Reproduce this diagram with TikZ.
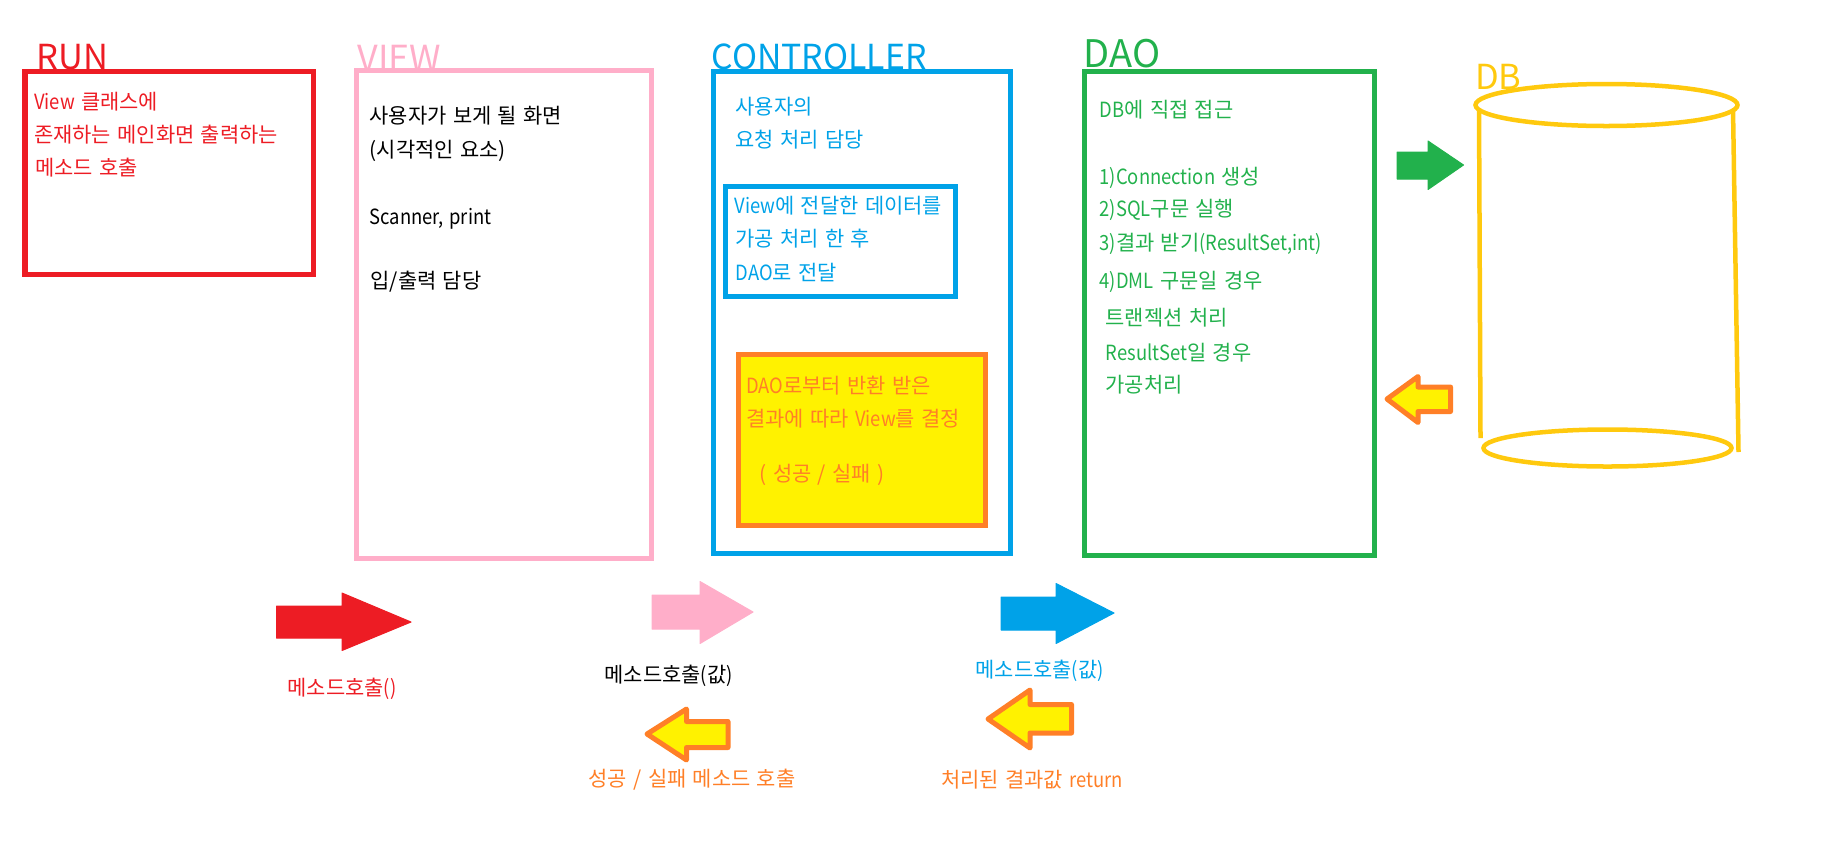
\documentclass[tikz,border=0pt]{standalone}
\usepackage{fontspec}
\setmainfont{Noto Sans CJK KR}[WordSpace = 1.35]
\usepackage{xcolor}
\definecolor{PaintRed}{HTML}{ED1C24}
\definecolor{PaintPink}{HTML}{FFAEC9}
\definecolor{PaintBlue}{HTML}{00A2E8}
\definecolor{PaintGreen}{HTML}{22B14C}
\definecolor{PaintYellow}{HTML}{FFF200}
\definecolor{PaintOrange}{HTML}{FF7F27}
\definecolor{PaintGold}{HTML}{FFC90E}
\newcommand{\latin}[1]{{\addfontfeature{FakeStretch = 0.88}#1}}
\tikzset{
    headtext/.style = {
        anchor    = base west,
        inner sep = 0pt,
        font      = \fontsize{9.8}{12}\selectfont,
    },
    linetext/.style = {
        anchor    = base west,
        inner sep = 0pt,
        font      = \fontsize{5.95}{8}\selectfont,
    },
    panel/.style = {
        shape      = rectangle,
        anchor     = north west,
        outer sep  = 0pt,
        inner sep  = 0pt,
        line width = 0.05cm,
    },
    plainarrow/.style = {
        fill      = #1,
        draw      = #1,
        line join = round,
        line width = 0.01cm,
    },
    returnarrow/.style = {
        fill       = PaintYellow,
        draw       = PaintOrange,
        line join  = round,
        line width = 0.05cm,
    },
    cylinderline/.style = {
        draw       = PaintGold,
        line width = 0.045cm,
    },
}
\begin{document}
\begin{tikzpicture}[x = 0.01cm, y = -0.01cm]
    \useasboundingbox (0, 0) rectangle (1825, 854);

    \node (runhead) at (36, 69) [headtext, text = PaintRed] {RUN};
    \node (viewhead) at (357, 71) [headtext, text = PaintPink, font = \fontsize{10.2}{12}\selectfont] {VIEW};
    \node (ctrlhead) at (711, 69) [headtext, text = PaintBlue] {\addfontfeature{FakeStretch = 0.98}CONTROLLER};
    \node (daohead) at (1083, 67) [headtext, text = PaintGreen, font = \fontsize{10.8}{12}\selectfont] {DAO};
    \node (dbhead) at (1474.5, 89) [headtext, text = PaintGold] {DB};

    \node (runbox) at (25, 71.5) [panel, draw = PaintRed, minimum width = 2.885cm, minimum height = 2.03cm] {};
    \node (viewbox) at (356.5, 70.5) [panel, draw = PaintPink, minimum width = 2.945cm, minimum height = 4.875cm] {};
    \node (ctrlbox) at (713.5, 71) [panel, draw = PaintBlue, minimum width = 2.965cm, minimum height = 4.825cm] {};
    \node (sendbox) at (725.5, 186.5) [panel, draw = PaintBlue, minimum width = 2.295cm, minimum height = 1.095cm] {};
    \node (resultbox) at (738.5, 354) [panel, draw = PaintOrange, fill = PaintYellow, minimum width = 2.465cm, minimum height = 1.71cm] {};
    \node (daobox) at (1084, 71.5) [panel, draw = PaintGreen, minimum width = 2.90cm, minimum height = 4.84cm] {};

    \begin{scope}[every node/.style = {linetext, text = PaintRed}]
        \node (run1) at (33.5, 109) {\latin{View} 클래스에};
        \node (run2) at (33.5, 142) {존재하는 메인화면 출력하는};
        \node (run3) at (34.5, 175) {메소드 호출};
        \node (runcall) at (287, 695) {메소드호출\latin{()}};
    \end{scope}

    \begin{scope}[every node/.style = {linetext, text = black}]
        \node (view1) at (369, 123) {사용자가 보게 될 화면};
        \node (view2) at (369, 157) {(시각적인 요소)};
        \node (view3) at (369, 224) {\latin{Scanner, print}};
        \node (view4) at (370, 288) {입/출력 담당};
        \node (viewcall) at (604, 682) {메소드호출\latin{(}값\latin{)}};
    \end{scope}

    \begin{scope}[every node/.style = {linetext, text = PaintBlue}]
        \node (ctrl1) at (735, 114) {사용자의};
        \node (ctrl2) at (735, 147) {요청 처리 담당};
        \node (send1) at (734, 213.5) {\latin{View}에 전달한 데이터를};
        \node (send2) at (735, 246.5) {가공 처리 한 후};
        \node (send3) at (735, 280) {\latin{DAO}로 전달};
        \node (ctrlcall) at (975, 677) {메소드호출\latin{(}값\latin{)}};
    \end{scope}

    \begin{scope}[every node/.style = {linetext, text = PaintOrange}]
        \node (result1) at (745.5, 393.5) {\latin{DAO}로부터 반환 받은};
        \node (result2) at (745.5, 426.5) {결과에 따라 \latin{View}를 결정};
        \node (result3) at (759, 481.5) {( 성공 / 실패 )};
        \node (viewreturn) at (588, 786) {성공 / 실패 메소드 호출};
        \node (ctrlreturn) at (940.5, 787) {처리된 결과값 \latin{return}};
    \end{scope}

    \begin{scope}[every node/.style = {linetext, text = PaintGreen}]
        \node (dao1) at (1099, 117) {\latin{DB}에 직접 접근};
        \node (dao2) at (1099, 184) {\latin{1)Connection} 생성};
        \node (dao3) at (1099, 216.5) {\latin{2)SQL}구문 실행};
        \node (dao4) at (1099, 250) {\latin{3)}결과 받기\latin{(ResultSet,int)}};
        \node (dao5) at (1099, 288) {\latin{4)DML} 구문일 경우};
        \node (dao6) at (1105, 325.5) {트랜젝션 처리};
        \node (dao7) at (1105, 360) {\latin{ResultSet}일 경우};
        \node (dao8) at (1105, 392) {가공처리};
    \end{scope}

    \draw[plainarrow = PaintRed] (276.5, 606) -- (342, 606) -- (342, 593) -- (411, 622) -- (342, 650.5) -- (342, 638) -- (276.5, 638) -- cycle;
    \draw[plainarrow = PaintPink] (652, 595) -- (700, 595) -- (700, 581.5) -- (753, 612) -- (700, 643.5) -- (700, 629) -- (652, 629) -- cycle;
    \draw[plainarrow = PaintBlue] (1001, 597) -- (1056, 597) -- (1056, 583.5) -- (1114, 613) -- (1056, 643.5) -- (1056, 630) -- (1001, 630) -- cycle;
    \draw[plainarrow = PaintGreen] (1397, 152) -- (1428, 152) -- (1428, 141) -- (1463.5, 165) -- (1428, 189.5) -- (1428, 179) -- (1397, 179) -- cycle;

    \draw[returnarrow] (728, 721.5) -- (686.5, 721.5) -- (686.5, 709) -- (647, 734) -- (686.5, 760) -- (686.5, 747.5) -- (728, 747.5) -- cycle;
    \draw[returnarrow] (1071.5, 704.5) -- (1030, 704.5) -- (1030, 690) -- (988, 719) -- (1030, 748) -- (1030, 733) -- (1071.5, 733) -- cycle;
    \draw[returnarrow] (1450.5, 387) -- (1418, 387) -- (1418, 376.5) -- (1387, 399) -- (1418, 422.5) -- (1418, 411.5) -- (1450.5, 411.5) -- cycle;

    \coordinate (dbtop) at (1606.5, 105);
    \coordinate (dbbottom) at (1607.5, 448);

    \draw[cylinderline] (dbtop) ellipse [x radius = 131, y radius = 21];
    \draw[cylinderline] (dbbottom) ellipse [x radius = 124, y radius = 18.5];
    \draw[cylinderline] (1479, 110) -- (1480.5, 438);
    \draw[cylinderline] (1733, 110) -- (1738.5, 452);
\end{tikzpicture}
\end{document}
